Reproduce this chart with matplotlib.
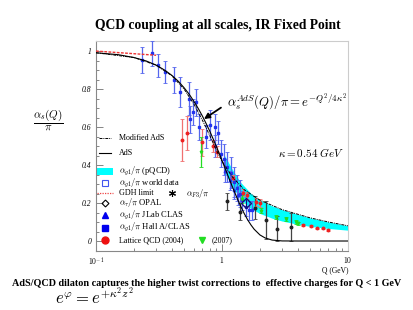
import matplotlib.pyplot as plt
from matplotlib.patches import Rectangle

plt.rcParams['font.family'] = ['Liberation Serif', 'DejaVu Serif']
plt.rcParams['mathtext.fontset'] = 'cm'

# AdS curve
q_ads = [0.1, 0.15, 0.2, 0.25, 0.3, 0.35, 0.4, 0.45, 0.5, 0.55, 0.6, 0.65, 0.7, 0.75,
         0.8, 0.85, 0.9, 0.95, 1.0, 1.1, 1.2, 1.3, 1.4, 1.5, 1.6, 1.7, 1.8, 2.0, 2.2,
         2.5, 3.0, 4.0, 10.0]
a_ads = [0.991, 0.981, 0.966, 0.948, 0.926, 0.900, 0.872, 0.841, 0.807, 0.772, 0.734,
         0.696, 0.657, 0.617, 0.578, 0.538, 0.499, 0.461, 0.424, 0.354, 0.291, 0.235,
         0.186, 0.145, 0.111, 0.084, 0.062, 0.032, 0.016, 0.005, 0.0004, 0.0, 0.0]

# modified AdS
q_mod = [0.1, 0.2, 0.3, 0.4, 0.5, 0.6, 0.7, 0.8, 0.9, 1.0, 1.2, 1.5, 2.0, 3.0, 5.0, 7.0, 10.0]
a_mod = [0.991, 0.966, 0.926, 0.870, 0.800, 0.720, 0.635, 0.555, 0.480, 0.420, 0.340,
         0.270, 0.215, 0.165, 0.122, 0.100, 0.080]

# pQCD band
q_band = [1.05, 1.2, 1.4, 1.7, 2.0, 2.5, 3.0, 4.0, 5.0, 7.0, 10.0]
band_hi = [0.45, 0.38, 0.31, 0.25, 0.215, 0.185, 0.165, 0.14, 0.122, 0.10, 0.08]
band_lo = [0.36, 0.29, 0.22, 0.17, 0.145, 0.12, 0.105, 0.088, 0.077, 0.066, 0.057]

# GDH limit
q_gdh = [0.1, 0.3]
a_gdh = [1.0, 0.978]

# alpha_g1 world data
q_world = [0.231, 0.278, 0.313, 0.355, 0.413, 0.467, 0.543, 0.561, 0.593, 0.62, 0.653,
           0.74, 0.809, 0.887, 0.937, 0.887, 0.973, 1.033, 1.10, 1.169, 1.235, 1.32, 1.40]
a_world = [0.953, 0.988, 0.926, 0.89, 0.847, 0.785, 0.75, 0.64, 0.68, 0.73, 0.60,
           0.55, 0.61, 0.60, 0.57, 0.50, 0.46, 0.43, 0.39, 0.36, 0.31, 0.28, 0.25]
e_world = [0.066, 0.066, 0.06, 0.06, 0.07, 0.08, 0.085, 0.07, 0.07, 0.07, 0.07,
           0.06, 0.08, 0.07, 0.06, 0.06, 0.07, 0.08, 0.08, 0.08, 0.08, 0.07, 0.07]

# JLab CLAS
q_clas = [1.05, 1.15, 1.25, 1.35]
a_clas = [0.37, 0.32, 0.27, 0.24]
e_clas = [0.06, 0.05, 0.05, 0.05]

# Hall A / CLAS
q_halla = [1.45, 1.55, 1.65, 1.72]
a_halla = [0.215, 0.18, 0.163, 0.163]
e_halla = [0.05, 0.05, 0.05, 0.05]

# alpha_F3
q_f3 = [1.1, 1.38, 1.84, 2.22, 2.75, 3.5]
a_f3 = [0.21, 0.155, 0.175, 0.11, 0.065, 0.075]
e_f3 = [0.045, 0.045, 0.06, 0.10, 0.065, 0.075]

# OPAL
q_opal = [1.56]
a_opal = [0.20]
e_opal = [0.02]

# Lattice QCD 2004
q_lat = [0.48, 0.53, 0.69, 0.85, 0.91, 1.23, 1.48, 1.59, 1.85, 2.0, 4.36, 5.1, 5.7, 6.3, 6.9]
a_lat = [0.53, 0.57, 0.52, 0.50, 0.47, 0.33, 0.255, 0.24, 0.205, 0.20, 0.083, 0.079,
         0.067, 0.067, 0.058]
e_lat = [0.11, 0.09, 0.07, 0.03, 0.03, 0.02, 0.02, 0.02, 0.02, 0.02, 0.004, 0.004,
         0.004, 0.004, 0.004]

# Lattice QCD 2007
q_lat07 = [0.68, 1.45, 2.03, 2.67, 3.2, 3.86, 4.0]
a_lat07 = [0.47, 0.22, 0.16, 0.128, 0.114, 0.10, 0.093]
e_lat07 = [0.08, 0.02, 0.015, 0.01, 0.01, 0.008, 0.008]

blue = '#2233ee'
fig = plt.figure(figsize=(4.14, 3.10), dpi=100)
ax = fig.add_axes([96 / 414, 59 / 310, 252 / 414, 210 / 310])
ax.set_xscale('log')
ax.set_xlim(0.1, 10)
ax.set_ylim(-0.0526, 1.053)

ax.fill_between(q_band, band_lo, band_hi, color='#00ffff', lw=0, zorder=1)

eb = dict(elinewidth=0.9, capsize=1.2, capthick=0.6, ms=1.8, zorder=3)
ax.errorbar(q_world, a_world, yerr=e_world, fmt='s', color=blue, ecolor='#5566ee', **eb)
ax.errorbar(q_clas, a_clas, yerr=e_clas, fmt='^', color=blue, ecolor='#5566ee', **eb)
ax.errorbar(q_halla, a_halla, yerr=e_halla, fmt='s', color=blue, ecolor='#5566ee', **eb)
ax.errorbar(q_f3, a_f3, yerr=e_f3, fmt='o', color='#222222', ecolor='#444444', **eb)
ax.errorbar(q_lat, a_lat, yerr=e_lat, fmt='o', color='#ee2222', ecolor='#f07070', **eb)
ax.errorbar(q_lat07, a_lat07, yerr=e_lat07, fmt='v', color='#22dd22', ecolor='#22dd22', **eb)
ax.errorbar(q_opal, a_opal, yerr=e_opal, fmt='D', mfc='none', mec='#111177', ms=5,
            mew=1.0, ecolor='#111177', elinewidth=0.8, zorder=5)

ax.plot(q_gdh, a_gdh, color='#ee3333', ls=(0, (2, 1)), lw=1.0, zorder=4)
ax.plot(q_mod, a_mod, color='black', ls=(0, (3, 1, 1, 1)), lw=0.7, zorder=4)
ax.plot(q_ads, a_ads, color='black', lw=0.8, zorder=4)

ax.annotate('', xy=(0.69, 0.634), xytext=(0.505, 0.69), textcoords='axes fraction',
            arrowprops=dict(arrowstyle='-|>', color='black', lw=1.3, mutation_scale=8),
            zorder=6)
ax.text(0.52, 0.71, r'$\alpha_s^{AdS}(Q)/\pi = e^{-Q^2/4\kappa^2}$', transform=ax.transAxes,
        fontsize=9.2, va='center', ha='left')
ax.text(0.722, 0.467, r'$\kappa = 0.54\ GeV$', transform=ax.transAxes, fontsize=8,
        va='center', ha='left')

# legend
tr = ax.transAxes
fs = 6.1
mx = 0.036
tx = 0.091
ax.plot([0.012, 0.06], [0.538, 0.538], transform=tr, color='black', ls=(0, (3, 1, 1, 1)), lw=0.7)
ax.text(tx, 0.538, 'Modified AdS', transform=tr, fontsize=5.8, va='center')
ax.plot([0.012, 0.06], [0.467, 0.467], transform=tr, color='black', lw=0.8)
ax.text(tx, 0.467, 'AdS', transform=tr, fontsize=5.8, va='center')
ax.add_patch(Rectangle((0.004, 0.361), 0.064, 0.034, transform=tr, color='#00ffff', lw=0))
ax.text(tx, 0.380, r'$\alpha_{g1}/\pi$ (pQCD)', transform=tr, fontsize=fs, va='center')
ax.plot([mx], [0.325], 's', transform=tr, mfc='none', mec='#4455ee', ms=5, mew=0.8)
ax.text(tx, 0.323, r'$\alpha_{g1}/\pi$ world data', transform=tr, fontsize=fs, va='center')
ax.plot([0.004, 0.068], [0.275, 0.275], transform=tr, color='#ee4444', ls=(0, (1, 1)), lw=0.9)
ax.text(tx, 0.275, 'GDH limit', transform=tr, fontsize=5.8, va='center')
ax.plot([0.30], [0.275], transform=tr, marker=(6, 2, 0), color='black', ms=5, mew=0.8)
ax.text(0.357, 0.273, r'$\alpha_{F3}/\pi$', transform=tr, fontsize=fs, va='center')
ax.plot([mx], [0.229], 'D', transform=tr, mfc='none', mec='black', ms=3.5, mew=0.8)
ax.text(tx, 0.229, r'$\alpha_{\tau}/\pi$ OPAL', transform=tr, fontsize=fs, va='center')
ax.plot([mx], [0.171], '^', transform=tr, color='#0000ee', ms=5)
ax.text(tx, 0.171, r'$\alpha_{g1}/\pi$ JLab CLAS', transform=tr, fontsize=fs, va='center')
ax.plot([mx], [0.11], 's', transform=tr, color='#0000ee', ms=5)
ax.text(tx, 0.11, r'$\alpha_{g1}/\pi$ Hall A/CLAS', transform=tr, fontsize=fs, va='center')
ax.plot([mx], [0.052], 'o', transform=tr, color='#ee1111', ms=5)
ax.text(tx, 0.052, 'Lattice QCD (2004)', transform=tr, fontsize=5.8, va='center')
ax.plot([0.419], [0.052], 'v', transform=tr, color='#22dd22', ms=5)
ax.text(0.459, 0.052, '(2007)', transform=tr, fontsize=5.8, va='center')

# axes styling
for s in ['left', 'bottom']:
    ax.spines[s].set_color('#888888')
for s in ['top', 'right']:
    ax.spines[s].set_color('#cccccc')
ax.set_xticks([0.1, 1, 10])
ax.set_xticklabels([r'$\mathit{10^{-1}}$', r'$\mathit{1}$', r'$\mathit{10}$'])
ax.set_yticks([0, 0.2, 0.4, 0.6, 0.8, 1.0])
ax.set_yticklabels(['0', '0.2', '0.4', '0.6', '0.8', '1'], fontstyle='italic')
ax.set_yticks([0.1 * i for i in range(11)] + [0.05 + 0.1 * i for i in range(10)], minor=True)
ax.tick_params(direction='in', labelsize=5.5, length=5, width=0.5, color='#555555')
ax.tick_params(which='minor', direction='in', length=2.5, width=0.5, color='#555555')
ax.tick_params(axis='x', pad=3)
ax.text(1.0, -0.09, 'Q (GeV)', transform=tr, fontsize=5.5, ha='right', va='center')

fig.text(0.527, (310 - 25) / 310, 'QCD coupling at all scales, IR Fixed Point',
         fontsize=9.8, weight='bold', ha='center', va='center')
fig.text(48 / 414, (310 - 120) / 310, r'$\dfrac{\alpha_s(Q)}{\pi}$', fontsize=8,
         ha='center', va='center')
fig.text(0.5, (310 - 283) / 310,
         'AdS/QCD dilaton captures the higher twist corrections to  effective charges for Q < 1 GeV',
         fontsize=7.3, weight='bold', ha='center', va='center')
fig.text(55 / 414, (310 - 297) / 310, r'$e^{\varphi} = e^{+\kappa^2 z^2}$', fontsize=12,
         ha='left', va='center')

fig.savefig('out.png', dpi=100)
